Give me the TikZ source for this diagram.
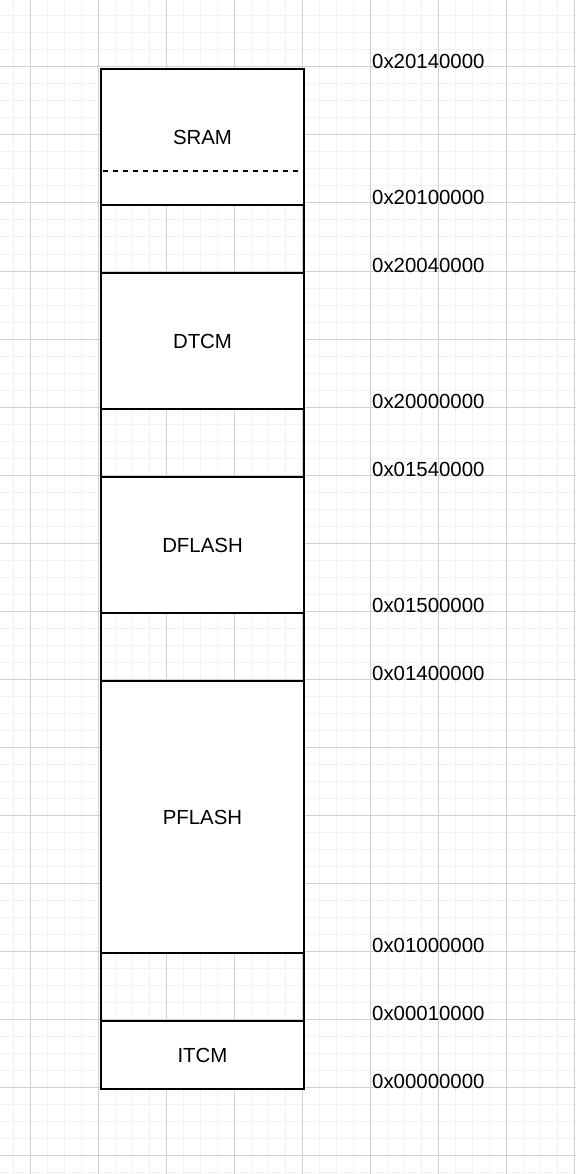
\documentclass[tikz,border=0pt]{standalone}
\usepackage{fontspec}
\setmainfont{Liberation Sans}
\begin{document}
\begin{tikzpicture}[x=1pt,y=-1pt,
  minorline/.style={draw={rgb,255:red,242;green,242;blue,242},line width=1pt},
  majorline/.style={draw={rgb,255:red,208;green,208;blue,208},line width=1pt},
  region/.style={draw=black,line width=1.5pt,fill=white,minimum width=203pt,inner sep=0pt,
    font=\fontsize{20.4}{24}\selectfont},
  gapbox/.style={draw=black,line width=1.5pt,minimum width=203pt,inner sep=0pt},
  addr/.style={anchor=west,inner sep=0pt,font=\fontsize{20.4}{24}\selectfont}]
\useasboundingbox (0,0) rectangle (576,1174);
\fill[white] (0,0) rectangle (576,1174);
% grid
\foreach \i in {0,...,34} {
  \pgfmathsetmacro{\gx}{13.5+17*\i}
  \draw[minorline] (\gx,0) -- (\gx,1174);
}
\foreach \i in {0,...,69} {
  \pgfmathsetmacro{\gy}{16+17*\i}
  \draw[minorline] (0,\gy) -- (576,\gy);
}
\foreach \i in {0,...,8} {
  \pgfmathsetmacro{\gx}{30.5+68*\i}
  \draw[majorline] (\gx,0) -- (\gx,1174);
}
\foreach \i in {0,...,17} {
  \pgfmathsetmacro{\gy}{67+68*\i}
  \draw[majorline] (0,\gy) -- (576,\gy);
}
% regions
\node[region,minimum height=136pt] (sram) at (202.5,137) {SRAM};
\node[gapbox,minimum height=68pt] (gap1) at (202.5,239) {};
\node[region,minimum height=136pt] (dtcm) at (202.5,341) {DTCM};
\node[gapbox,minimum height=68pt] (gap2) at (202.5,443) {};
\node[region,minimum height=136pt] (dflash) at (202.5,545) {DFLASH};
\node[gapbox,minimum height=68pt] (gap3) at (202.5,647) {};
\node[region,minimum height=272pt] (pflash) at (202.5,817) {PFLASH};
\node[gapbox,minimum height=68pt] (gap4) at (202.5,987) {};
\node[region,minimum height=68pt] (itcm) at (202.5,1055) {ITCM};
% dashed split in SRAM
\coordinate (dl) at (103,171);
\coordinate (dr) at (301,171);
\draw[line width=1.5pt,dash pattern=on 5pt off 5pt] (dl) -- (dr);
% addresses
\node[addr] (a1) at (372,61) {0x20140000};
\node[addr] (a2) at (372,197) {0x20100000};
\node[addr] (a3) at (372,265) {0x20040000};
\node[addr] (a4) at (372,401) {0x20000000};
\node[addr] (a5) at (372,469) {0x01540000};
\node[addr] (a6) at (372,605) {0x01500000};
\node[addr] (a7) at (372,673) {0x01400000};
\node[addr] (a8) at (372,945) {0x01000000};
\node[addr] (a9) at (372,1013) {0x00010000};
\node[addr] (a10) at (372,1081) {0x00000000};
\end{tikzpicture}
\end{document}
